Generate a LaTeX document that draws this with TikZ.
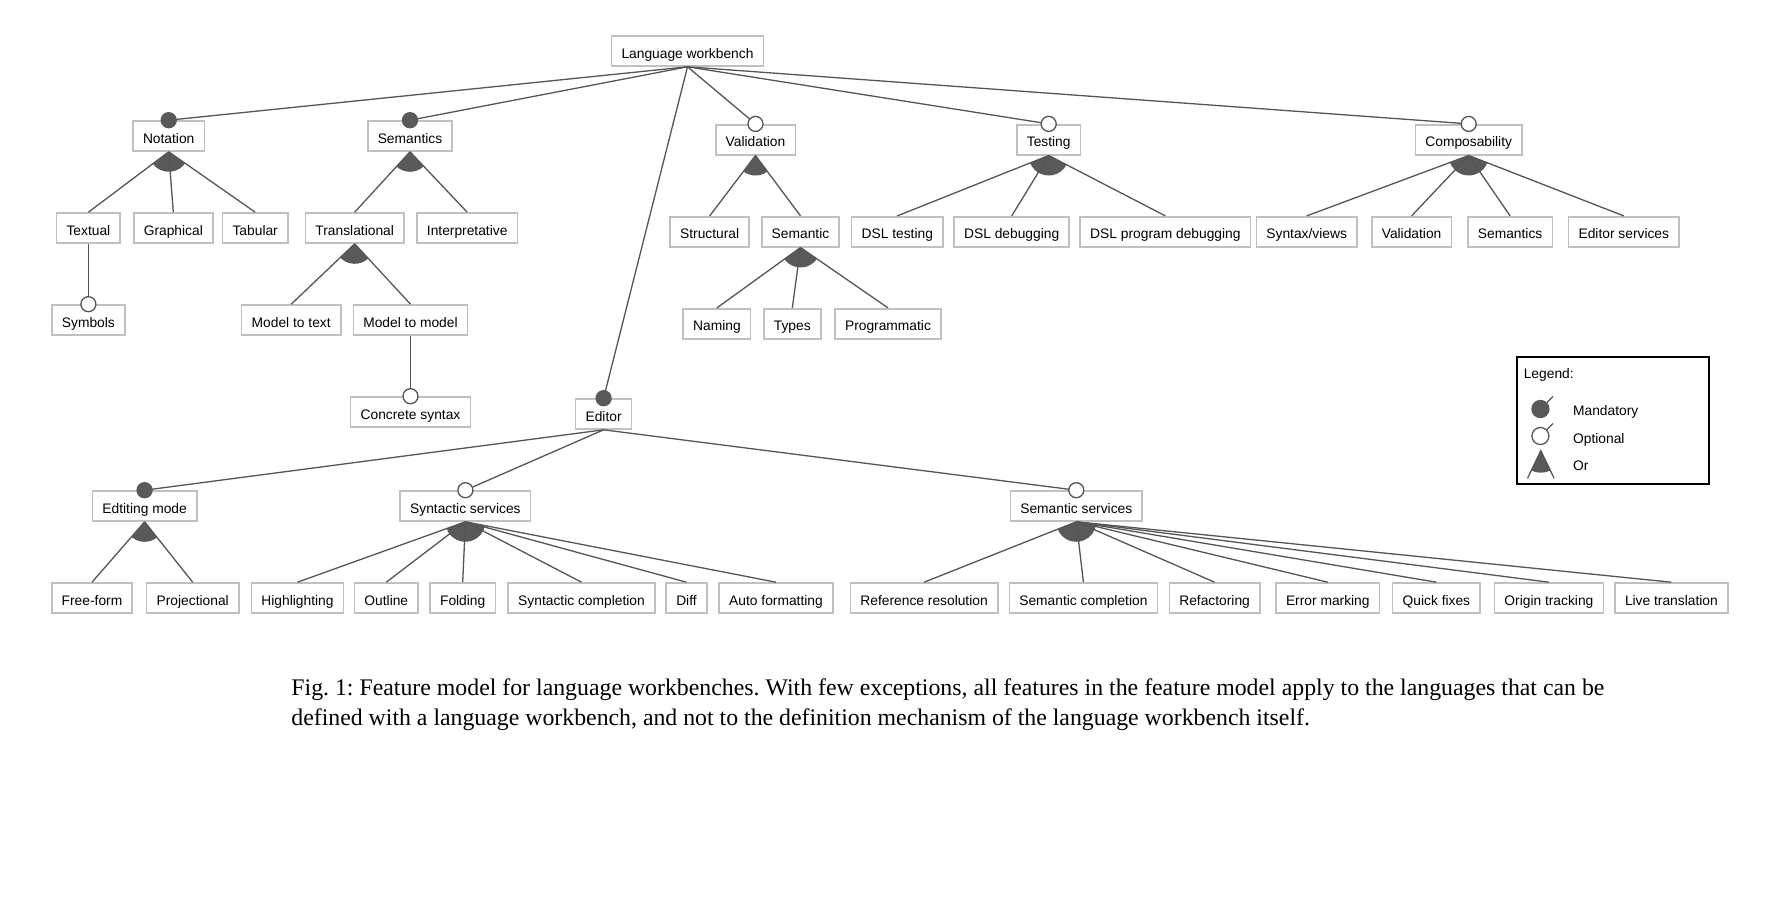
\documentclass[tikz,border=0pt]{standalone}
\usepackage{fontspec}
\setmainfont{Liberation Serif}
\setsansfont{Liberation Sans}
\usetikzlibrary{calc}
\definecolor{linegray}{HTML}{555555}
\definecolor{boxgray}{HTML}{C0C0C0}
\definecolor{dotgray}{HTML}{595959}
\frenchspacing

% filled sector of an or-group, between the outer children
\newcommand{\orsector}[3]{%
  \fill[dotgray] let \p0=(#1.south), \p1=($(#2.north)-(#1.south)$), \p2=($(#3.north)-(#1.south)$),
    \n1={atan2(\y1,\x1)}, \n2={atan2(\y2,\x2)} in
    (\p0) -- ++(\n1:10pt) arc[start angle=\n1, end angle=\n2, radius=10pt] -- cycle;}

\begin{document}
\begin{tikzpicture}[x=0.5pt, y=0.5pt,
    feat/.style={draw=boxgray, line width=0.8pt, fill=white, font=\sffamily\fontsize{6.9}{8}\selectfont,
      minimum height=15pt, inner xsep=5pt, inner ysep=0pt, text height=7.5pt, text depth=0.5pt},
    link/.style={draw=linegray, line width=0.65pt},
    mand/.style={circle, fill=dotgray, draw=dotgray, line width=0.65pt, minimum size=7.5pt, inner sep=0pt},
    opt/.style={circle, fill=white, draw=linegray, line width=0.65pt, minimum size=7.5pt, inner sep=0pt},
    legtext/.style={anchor=base west, inner sep=0pt, font=\sffamily\fontsize{6.9}{8}\selectfont}]
  \useasboundingbox (0,0) rectangle (1783,-900);

  % top levels
  \node[feat] (lw) at (687.5,-51) {Language workbench};
  \node[feat] (notation) at (168.7,-136) {Notation};
  \node[feat] (semantics) at (410,-136) {Semantics};
  \node[feat] (validation) at (755.5,-139.7) {Validation};
  \node[feat] (testing) at (1048.7,-139.7) {Testing};
  \node[feat] (composability) at (1468.7,-139.7) {Composability};

  \node[feat] (textual) at (88.4,-228) {Textual};
  \node[feat] (graphical) at (173.3,-228) {Graphical};
  \node[feat] (tabular) at (255.2,-228) {Tabular};
  \node[feat] (translational) at (354.7,-228) {Translational};
  \node[feat] (interpretative) at (467.2,-228) {Interpretative};

  \node[feat] (structural) at (709.7,-231.7) {Structural};
  \node[feat] (semantic) at (800.5,-231.7) {Semantic};
  \node[feat] (dsltesting) at (897.3,-231.7) {DSL testing};
  \node[feat] (dsldebugging) at (1011.7,-231.7) {DSL debugging};
  \node[feat] (dslprogdebugging) at (1165.4,-231.7) {DSL program debugging};
  \node[feat] (syntaxviews) at (1306.7,-231.7) {Syntax/views};
  \node[feat] (compvalidation) at (1411.6,-231.7) {Validation};
  \node[feat] (compsemantics) at (1510.1,-231.7) {Semantics};
  \node[feat] (editorservices) at (1623.8,-231.7) {Editor services};

  \node[feat] (symbols) at (88.4,-320) {Symbols};
  \node[feat] (modeltotext) at (291.2,-320) {Model to text};
  \node[feat] (modeltomodel) at (410.5,-320) {Model to model};
  \node[feat] (naming) at (716.9,-323.7) {Naming};
  \node[feat] (types) at (792.3,-323.7) {Types};
  \node[feat] (programmatic) at (888,-323.7) {Programmatic};
  \node[feat] (concretesyntax) at (410.5,-412) {Concrete syntax};

  % editor
  \node[feat] (editor) at (603.6,-414) {Editor};
  \node[feat] (editingmode) at (144.6,-506) {Edtiting mode};
  \node[feat] (syntacticservices) at (465.4,-506) {Syntactic services};
  \node[feat] (semanticservices) at (1076.3,-506) {Semantic services};

  \node[feat] (freeform) at (92,-598) {Free-form};
  \node[feat] (projectional) at (192.7,-598) {Projectional};
  \node[feat] (highlighting) at (297.5,-598) {Highlighting};
  \node[feat] (outline) at (386.3,-598) {Outline};
  \node[feat] (folding) at (462.7,-598) {Folding};
  \node[feat] (syntacticcompletion) at (581.5,-598) {Syntactic completion};
  \node[feat] (diff) at (686.5,-598) {Diff};
  \node[feat] (autoformatting) at (776,-598) {Auto formatting};
  \node[feat] (referenceresolution) at (924.1,-598) {Reference resolution};
  \node[feat] (semanticcompletion) at (1083.4,-598) {Semantic completion};
  \node[feat] (refactoring) at (1214.6,-598) {Refactoring};
  \node[feat] (errormarking) at (1327.8,-598) {Error marking};
  \node[feat] (quickfixes) at (1436.4,-598) {Quick fixes};
  \node[feat] (origintracking) at (1548.9,-598) {Origin tracking};
  \node[feat] (livetranslation) at (1671.4,-598) {Live translation};

  % connectors
  \foreach \c in {notation,semantics,editor,validation,testing,composability}
    \draw[link] (lw.south) -- (\c.north);
  \foreach \c in {editingmode,syntacticservices,semanticservices}
    \draw[link] (editor.south) -- (\c.north);
  \draw[link] (textual.south) -- (symbols.north);
  \draw[link] (modeltomodel.south) -- (concretesyntax.north);

  % or-groups
  \orsector{notation}{textual}{tabular}
  \orsector{semantics}{translational}{interpretative}
  \orsector{translational}{modeltotext}{modeltomodel}
  \orsector{validation}{structural}{semantic}
  \orsector{semantic}{naming}{programmatic}
  \orsector{testing}{dsltesting}{dslprogdebugging}
  \orsector{composability}{syntaxviews}{editorservices}
  \orsector{editingmode}{freeform}{projectional}
  \orsector{syntacticservices}{highlighting}{autoformatting}
  \orsector{semanticservices}{referenceresolution}{livetranslation}
  \foreach \c in {textual,graphical,tabular}
    \draw[link] (notation.south) -- (\c.north);
  \foreach \c in {translational,interpretative}
    \draw[link] (semantics.south) -- (\c.north);
  \foreach \c in {modeltotext,modeltomodel}
    \draw[link] (translational.south) -- (\c.north);
  \foreach \c in {structural,semantic}
    \draw[link] (validation.south) -- (\c.north);
  \foreach \c in {naming,types,programmatic}
    \draw[link] (semantic.south) -- (\c.north);
  \foreach \c in {dsltesting,dsldebugging,dslprogdebugging}
    \draw[link] (testing.south) -- (\c.north);
  \foreach \c in {syntaxviews,compvalidation,compsemantics,editorservices}
    \draw[link] (composability.south) -- (\c.north);
  \foreach \c in {freeform,projectional}
    \draw[link] (editingmode.south) -- (\c.north);
  \foreach \c in {highlighting,outline,folding,syntacticcompletion,diff,autoformatting}
    \draw[link] (syntacticservices.south) -- (\c.north);
  \foreach \c in {referenceresolution,semanticcompletion,refactoring,errormarking,quickfixes,origintracking,livetranslation}
    \draw[link] (semanticservices.south) -- (\c.north);

  % mandatory / optional markers
  \foreach \c in {notation,semantics,editor,editingmode}
    \node[mand] (\c-dot) at (\c.north) {};
  \foreach \c in {validation,testing,composability,symbols,concretesyntax,syntacticservices,semanticservices}
    \node[opt] (\c-dot) at (\c.north) {};

  % legend
  \draw[line width=1pt] (1516.6,-356.7) rectangle (1708.7,-484);
  \node[legtext] (legendtitle) at (1523.4,-378.3) {Legend:};
  \node[mand, minimum size=8.5pt] (legmand) at (1540.4,-409) {};
  \draw[link] (legmand.45) -- ++(6,6);
  \node[legtext] (legmandtext) at (1572.7,-415) {Mandatory};
  \node[opt, minimum size=8.5pt] (legopt) at (1540.4,-436) {};
  \draw[link] (legopt.45) -- ++(6,6);
  \node[legtext] (legopttext) at (1572.7,-443.3) {Optional};
  \coordinate (legor) at (1540.8,-450.7);
  \fill[dotgray] (legor) -- ++(-115.7:11pt) arc[start angle=-115.7, end angle=-64.3, radius=11pt] -- cycle;
  \draw[link] (1527.5,-478.3) -- (legor) -- (1554.1,-478.3);
  \node[legtext] (legortext) at (1572.7,-470) {Or};

  % caption
  \node[anchor=base west, inner sep=0pt, font=\fontsize{11.9}{15}\selectfont] (caption1) at (291,-695.5)
    {\makebox[656.5pt][s]{Fig. 1: Feature model for language workbenches. With few exceptions, all features in the feature model apply to the languages that can be}};
  \node[anchor=base west, inner sep=0pt, font=\fontsize{11.9}{15}\selectfont] (caption2) at (291,-725.5)
    {defined with a language workbench, and not to the definition mechanism of the language workbench itself.};
\end{tikzpicture}
\end{document}
